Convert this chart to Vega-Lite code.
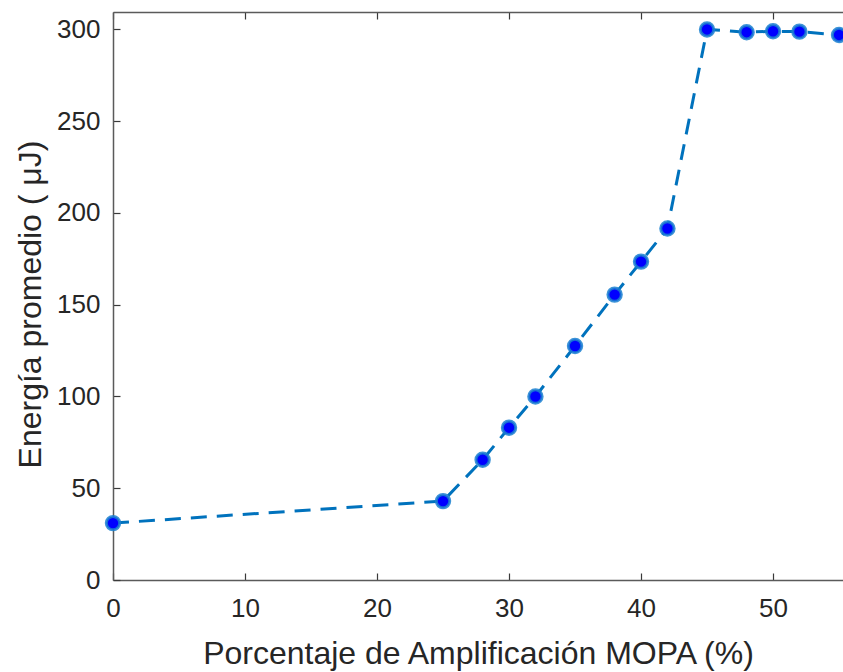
{
  "$schema": "https://vega.github.io/schema/vega-lite/v6.json",
  "width": 730,
  "height": 568,
  "autosize": {"type": "none"},
  "padding": {"left": 113, "top": 12, "right": 0, "bottom": 92},
  "background": "white",
  "config": {
    "view": {"stroke": null},
    "font": "Liberation Sans",
    "axis": {
      "grid": false,
      "domainColor": "#5a5a5a",
      "domainWidth": 1.5,
      "tickColor": "#3a3a3a",
      "tickWidth": 1.2,
      "tickSize": -7,
      "labelColor": "#262626",
      "titleColor": "#262626",
      "labelFont": "Liberation Sans",
      "titleFont": "Liberation Sans",
      "labelFontSize": 26,
      "titleFontSize": 32,
      "titleFontWeight": "normal"
    }
  },
  "data": {
    "values": [
      {"p": 0, "e": 31},
      {"p": 25, "e": 43},
      {"p": 28, "e": 65.5},
      {"p": 30, "e": 83},
      {"p": 32, "e": 100},
      {"p": 35, "e": 127.5},
      {"p": 38, "e": 155.5},
      {"p": 40, "e": 173.5},
      {"p": 42, "e": 191.5},
      {"p": 45, "e": 300},
      {"p": 48, "e": 298.5},
      {"p": 50, "e": 299},
      {"p": 52, "e": 298.8},
      {"p": 55, "e": 297}
    ]
  },
  "layer": [
    {
      "mark": {"type": "line", "color": "#0072BD", "strokeWidth": 3, "strokeDash": [16, 10]},
      "encoding": {
        "x": {
          "field": "p", "type": "quantitative",
          "scale": {"domain": [0, 55.3], "nice": false, "zero": false},
          "axis": {"values": [0, 10, 20, 30, 40, 50], "title": "Porcentaje de Amplificación MOPA (%)", "labelPadding": 22, "titlePadding": 17, "labelFlush": false}
        },
        "y": {
          "field": "e", "type": "quantitative",
          "scale": {"domain": [0, 309.5], "nice": false, "zero": false},
          "axis": {"values": [0, 50, 100, 150, 200, 250, 300], "title": "Energía promedio ( μJ)", "labelPadding": 20, "titlePadding": 9, "titleY": 292}
        }
      }
    },
    {
      "mark": {"type": "point", "filled": true, "fill": "#0000FF", "stroke": "#1a80d0", "strokeWidth": 3, "size": 180, "opacity": 1, "fillOpacity": 1, "strokeOpacity": 0.85},
      "encoding": {
        "x": {
          "field": "p", "type": "quantitative",
          "axis": {"orient": "top", "values": [0, 10, 20, 30, 40, 50], "labels": false, "title": null}
        },
        "y": {"field": "e", "type": "quantitative"}
      }
    }
  ],
  "resolve": {"axis": {"x": "independent"}}
}
